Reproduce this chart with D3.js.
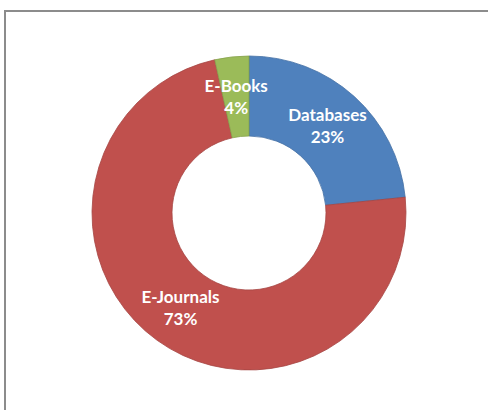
<!DOCTYPE html>
<html>
<head>
<meta charset="utf-8">
<script src="https://cdn.jsdelivr.net/npm/d3@7"></script>
<style>
  html, body { margin: 0; padding: 0; background: #fff; }
  svg { display: block; }
</style>
</head>
<body>
<div id="chart"></div>
<script>
const categories = ["Databases", "E-Journals", "E-Books"];
const values = [23.4, 73.1, 3.5];
const colors = ["#4F81BD", "#C0504D", "#9BBB59"];

const W = 488, H = 410;
const cx = 249, cy = 213, outerR = 157, innerR = 77;

const svg = d3.select("#chart").append("svg")
  .attr("width", W).attr("height", H);

svg.append("rect").attr("width", W).attr("height", H).attr("fill", "#fff");

// chart area border
svg.append("rect")
  .attr("x", 5).attr("y", 11)
  .attr("width", W + 10).attr("height", H + 10)
  .attr("fill", "none").attr("stroke", "#8c8c8c").attr("stroke-width", 2);

const data = categories.map((c, i) => ({ cat: c, value: values[i], color: colors[i] }));
const total = d3.sum(values);

const pie = d3.pie().sort(null).value(d => d.value);
const arc = d3.arc().innerRadius(innerR).outerRadius(outerR);
const labelArc = d3.arc().innerRadius(innerR).outerRadius(outerR);

const g = svg.append("g").attr("transform", `translate(${cx},${cy})`);
const arcs = pie(data);

g.selectAll("path.slice").data(arcs).join("path")
  .attr("class", "slice")
  .attr("d", arc)
  .attr("fill", d => d.data.color)
  .attr("stroke", d => d3.color(d.data.color).darker(0.4))
  .attr("stroke-width", 0.8);

const labels = g.selectAll("text.lbl").data(arcs).join("text")
  .attr("class", "lbl")
  .attr("transform", d => `translate(${labelArc.centroid(d)})`)
  .attr("text-anchor", "middle")
  .attr("fill", "#fff")
  .style("font-family", "Lato, 'Open Sans', sans-serif")
  .style("font-weight", "bold")
  .style("font-size", "17px");

labels.append("tspan").attr("x", 0).attr("y", -5)
  .text(d => d.data.cat);
labels.append("tspan").attr("x", 0).attr("y", 17)
  .text(d => Math.round(d.data.value / total * 100) + "%");
</script>
</body>
</html>
